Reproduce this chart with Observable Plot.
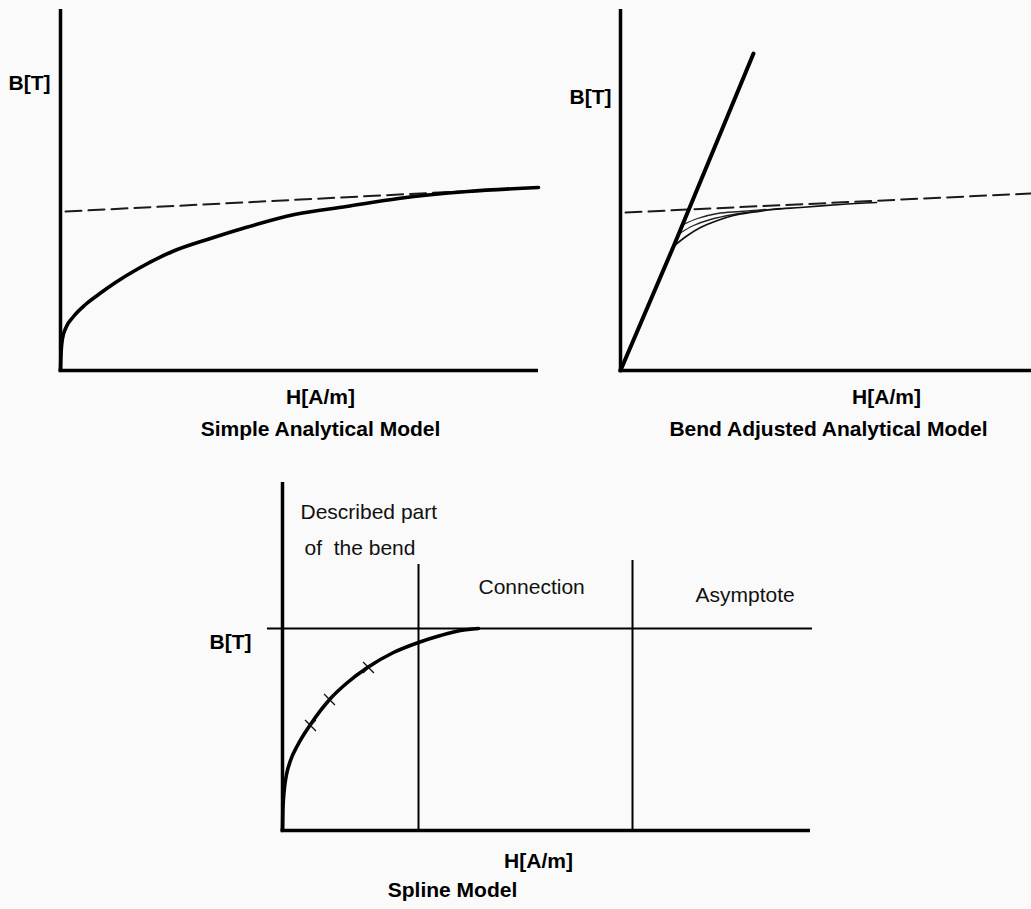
<!DOCTYPE html>
<html><head><meta charset="utf-8">
<script src="https://cdn.jsdelivr.net/npm/d3@7"></script>
<script src="https://cdn.jsdelivr.net/npm/@observablehq/plot@0.6"></script>
<style>
html,body{margin:0;padding:0;background:#fafafa;}
#wrap{position:relative;width:1031px;height:909px;overflow:hidden;background:#fafafa;}
#wrap svg{position:absolute;}
</style></head><body><div id="wrap"></div>
<script>
// ---- Panel 1: Simple Analytical Model (H, B in arbitrary units)
const simpleH = [0, 0.5, 2, 6, 13, 25, 38, 55, 78, 112, 150, 182, 234, 286, 338, 407, 478];
const simpleB = [0, 16, 32, 44, 54, 66, 76, 88, 102, 119, 132, 142, 156, 164, 172, 179, 183];
const simpleAsymH = [5, 478];
const simpleAsymB = [159, 183];

// ---- Panel 2: Bend Adjusted Analytical Model
const linearH = [0, 53, 133];
const linearB = [0, 124, 317];
const bendAsymH = [5, 410];
const bendAsymB = [158, 177];
const bendLowH = [54, 67, 80, 97, 113, 130, 153, 180, 220, 256];
const bendLowB = [125, 135, 143, 150, 155, 158, 161, 163, 166, 168];
const bendMidH = [59, 73, 90, 113, 140, 160];
const bendMidB = [137, 145, 151, 156, 160, 162];
const bendUpH = [63, 77, 97, 120, 145];
const bendUpB = [146, 152, 157, 159, 161];

// ---- Panel 3: Spline Model
const splineH = [0, 0.3, 1, 2, 4, 8, 15, 28, 48, 65, 85, 111, 136, 158, 178, 196];
const splineB = [0, 18, 32, 43, 56, 70, 85, 106, 132, 148, 163, 178, 188, 195, 200, 202];
const knotH = [28, 47, 86];
const knotB = [105, 131, 163];
const boundaryH = [136, 350];
const boundaryTop = [266, 270];
const asymptoteLevel = [202];
const regionLabels = ["Described part", "of  the bend", "Connection", "Asymptote"];

const axisLabelB = "B[T]";
const axisLabelH = "H[A/m]";
const titles = ["Simple Analytical Model", "Bend Adjusted Analytical Model", "Spline Model"];

// ---- helpers
const font = '"Liberation Sans", Arial, Helvetica, sans-serif';
const pts = (H, B) => H.map((h, i) => ({H: h, B: B[i]}));
const wrap = document.getElementById("wrap");
function place(svg, left, top) {
  svg.style.position = "absolute";
  svg.style.left = left + "px";
  svg.style.top = top + "px";
  wrap.appendChild(svg);
}
const bold = {fontSize: 21, fontWeight: "bold", fill: "#000"};
const style = {background: "transparent", overflow: "visible", fontFamily: font};

// ---- Panel 1
const p1 = Plot.plot({
  width: 540, height: 450, marginLeft: 60, marginRight: 2, marginTop: 9, marginBottom: 80,
  x: {domain: [0, 478], axis: null}, y: {domain: [0, 361], axis: null}, style,
  marks: [
    Plot.ruleX([0], {y1: -1, y2: 361, stroke: "#000", strokeWidth: 3.5}),
    Plot.ruleY([0], {x1: -1.5, x2: 478, stroke: "#000", strokeWidth: 3.5}),
    Plot.line(pts(simpleAsymH, simpleAsymB), {x: "H", y: "B", stroke: "#1a1a1a", strokeWidth: 2, strokeDasharray: "16,7"}),
    Plot.line(pts(simpleH, simpleB), {x: "H", y: "B", stroke: "#000", strokeWidth: 3.6, curve: "monotone-x"}),
    Plot.text([axisLabelB], {x: 0, y: 287, dx: -10, textAnchor: "end", ...bold}),
    Plot.text([axisLabelH], {x: 260, y: 0, dy: 27, ...bold}),
    Plot.text([titles[0]], {x: 260, y: 0, dy: 59, ...bold})
  ]
});
place(p1, 0, 0);

// ---- Panel 2
const p2 = Plot.plot({
  width: 491, height: 450, marginLeft: 80, marginRight: 0, marginTop: 9, marginBottom: 80,
  x: {domain: [0, 411], axis: null}, y: {domain: [0, 361], axis: null}, style,
  marks: [
    Plot.ruleX([0], {y1: -1, y2: 361, stroke: "#000", strokeWidth: 3.5}),
    Plot.ruleY([0], {x1: -1.5, x2: 411, stroke: "#000", strokeWidth: 3.5}),
    Plot.line(pts(bendAsymH, bendAsymB), {x: "H", y: "B", stroke: "#1a1a1a", strokeWidth: 2, strokeDasharray: "16,7"}),
    Plot.line(pts(bendUpH, bendUpB), {x: "H", y: "B", stroke: "#222", strokeWidth: 1.3, curve: "catmull-rom"}),
    Plot.line(pts(bendMidH, bendMidB), {x: "H", y: "B", stroke: "#222", strokeWidth: 1.3, curve: "catmull-rom"}),
    Plot.line(pts(bendLowH, bendLowB), {x: "H", y: "B", stroke: "#111", strokeWidth: 1.7, curve: "catmull-rom"}),
    Plot.line(pts(linearH, linearB), {x: "H", y: "B", stroke: "#000", strokeWidth: 4}),
    Plot.text([axisLabelB], {x: 0, y: 273, dx: -9, textAnchor: "end", ...bold}),
    Plot.text([axisLabelH], {x: 266, y: 0, dy: 27, ...bold}),
    Plot.text([titles[1]], {x: 208, y: 0, dy: 59, ...bold})
  ]
});
place(p2, 540, 0);

// ---- Panel 3
const regular = {fontSize: 21, fill: "#111", textAnchor: "start"};
const p3 = Plot.plot({
  width: 660, height: 449, marginLeft: 102, marginRight: 30, marginTop: 22, marginBottom: 79,
  x: {domain: [0, 528], axis: null}, y: {domain: [0, 348], axis: null}, style,
  marks: [
    Plot.ruleY(asymptoteLevel, {x1: -15, x2: 530, stroke: "#000", strokeWidth: 2}),
    Plot.ruleX(boundaryH.map((h, i) => ({H: h, top: boundaryTop[i]})), {x: "H", y1: 0, y2: "top", stroke: "#000", strokeWidth: 2}),
    Plot.ruleX([0], {y1: -1, y2: 348, stroke: "#000", strokeWidth: 3.5}),
    Plot.ruleY([0], {x1: -1.5, x2: 528, stroke: "#000", strokeWidth: 3.5}),
    Plot.line(pts(splineH, splineB), {x: "H", y: "B", stroke: "#000", strokeWidth: 3.6, curve: "monotone-x"}),
    Plot.dot(pts(knotH, knotB), {x: "H", y: "B", symbol: "times", r: 5, stroke: "#111", strokeWidth: 1.3}),
    Plot.text([regionLabels[0]], {x: 18, y: 318, ...regular}),
    Plot.text([regionLabels[1]], {x: 22, y: 282, ...regular}),
    Plot.text([regionLabels[2]], {x: 196, y: 243, ...regular}),
    Plot.text([regionLabels[3]], {x: 413, y: 235, ...regular}),
    Plot.text([axisLabelB], {x: 0, y: 188, dx: -31, textAnchor: "end", ...bold}),
    Plot.text([axisLabelH], {x: 256, y: 0, dy: 31, ...bold}),
    Plot.text([titles[2]], {x: 170, y: 0, dy: 60, ...bold})
  ]
});
place(p3, 180, 460);
</script>
</body></html>
